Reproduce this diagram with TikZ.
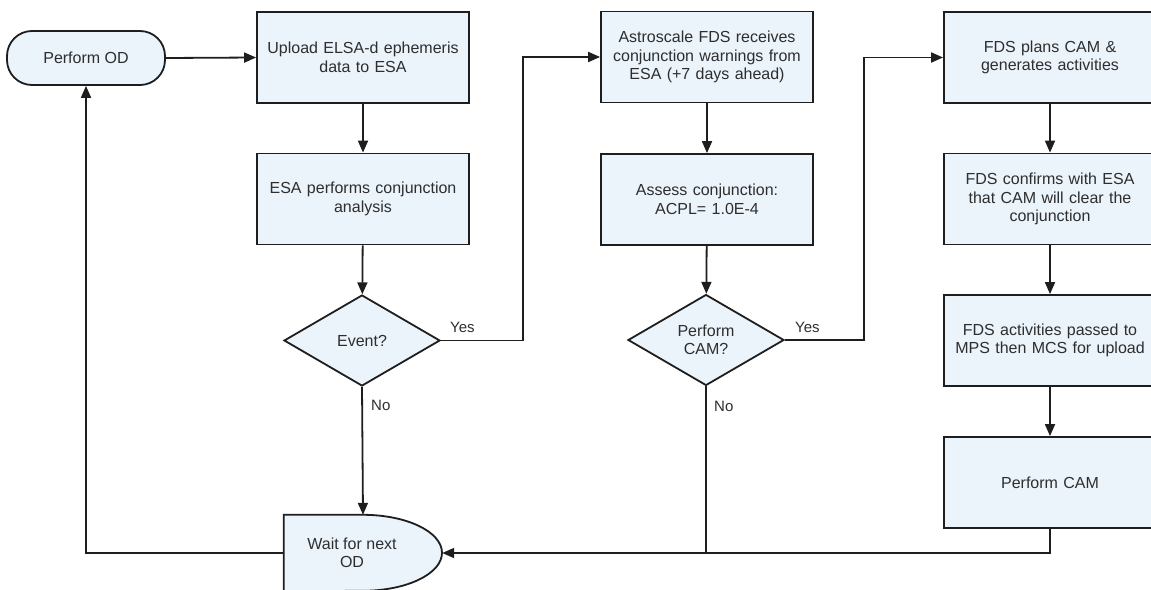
\documentclass[tikz,border=0pt]{standalone}
\usepackage{fontspec}
\setmainfont{Liberation Sans}
\usetikzlibrary{arrows.meta,shapes.geometric,calc}
\definecolor{boxfill}{HTML}{EBF3FB}
\definecolor{linec}{HTML}{1E1E1E}
\definecolor{textc}{HTML}{2E2E2E}
\begin{document}
\begin{tikzpicture}[x=1pt,y=-1pt,
  every node/.style={font=\fontsize{16}{18.5}\selectfont, text=textc},
  procbox/.style={draw=linec, line width=1.8pt, fill=boxfill, rectangle, minimum width=212pt, minimum height=91pt, inner sep=2pt, align=center, text width=205pt},
  decbox/.style={draw=linec, line width=1.8pt, fill=boxfill, diamond, minimum width=156pt, minimum height=91pt, inner sep=0pt, align=center},
  termbox/.style={draw=linec, line width=1.8pt, fill=boxfill, rectangle, rounded corners=25pt, minimum width=158pt, minimum height=54pt, align=center},
  conn/.style={draw=linec, line width=1.8pt},
  arr/.style={conn, -{Triangle[length=12pt,width=10pt]}},
  lbl/.style={font=\fontsize{15}{17}\selectfont, anchor=west, inner sep=0pt}
]
\useasboundingbox (0,0) rectangle (1151,589);

\node[termbox] (od) at (86,58) {Perform OD};
\node[procbox] (up) at (363,57.5) {Upload ELSA-d ephemeris\\data to ESA};
\node[procbox] (esa) at (363,199) {ESA performs conjunction\\analysis};
\node[decbox] (ev) at (362,340.5) {Event?};

\node[procbox] (ast) at (707,57) {Astroscale FDS receives\\conjunction warnings from\\ESA (+7 days ahead)};
\node[procbox] (ass) at (707,199.5) {Assess conjunction:\\ACPL= 1.0E-4};
\node[decbox] (cam) at (706,340) {Perform\\CAM?};

\node[procbox] (plan) at (1050,57.5) {FDS plans CAM \&\\generates activities};
\node[procbox] (conf) at (1050,199) {FDS confirms with ESA\\that CAM will clear the\\conjunction};
\node[procbox] (act) at (1050,340.5) {FDS activities passed to\\MPS then MCS for upload};
\node[procbox] (pcam) at (1050,482.5) {Perform CAM};

% delay shape (Wait for next OD)
\node[rectangle, minimum width=158pt, minimum height=76pt, inner sep=0pt] (wait) at (363,553) {};
\draw[draw=linec, line width=1.8pt, fill=boxfill]
  (wait.north west) -- (wait.north)
  arc[start angle=90, end angle=-90, x radius=79pt, y radius=38pt]
  -- (wait.south west) -- cycle;
\node[align=center] (waitlbl) at (352,553) {Wait for next\\OD};

\coordinate (j1) at (523,340.5);
\coordinate (j2) at (864,340);

\draw[arr] (od.east) -- (up.west);
\draw[arr] (up) -- (esa);
\draw[arr] (esa) -- (ev);
\draw[arr] (ev.east) -- (j1) |- (ast.west);
\draw[arr] (ast) -- (ass);
\draw[arr] (ass) -- (cam);
\draw[arr] (cam.east) -- (j2) |- (plan.west);
\draw[arr] (plan) -- (conf);
\draw[arr] (conf) -- (act);
\draw[arr] (act) -- (pcam);
\draw[arr] (pcam.south) |- (wait.east);
\draw[conn] (cam.south) -- (cam.south |- wait.east);
\draw[arr] (ev.south) -- (wait.north);
\draw[arr] (wait.west) -| (od.south);

\node[lbl] (yes1) at (450,327) {Yes};
\node[lbl] (no1) at (371,405) {No};
\node[lbl] (yes2) at (795,327) {Yes};
\node[lbl] (no2) at (714,406) {No};
\end{tikzpicture}
\end{document}
